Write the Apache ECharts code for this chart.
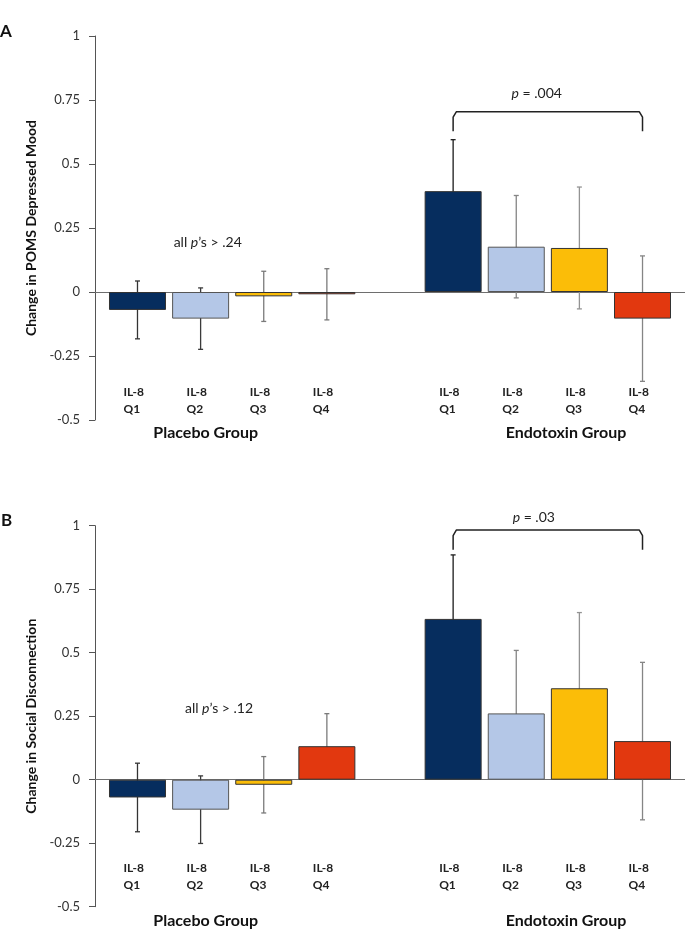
<!DOCTYPE html>
<html><head><meta charset="utf-8">
<script src="https://cdn.jsdelivr.net/npm/echarts@6/dist/echarts.min.js"></script>
<style>html,body{margin:0;padding:0;background:#fff}#c{width:685px;height:929px}</style>
</head><body><div id="c"></div>
<script>
// ---- data ----
const slots = ['Placebo Q1','Placebo Q2','Placebo Q3','Placebo Q4','','Endotoxin Q1','Endotoxin Q2','Endotoxin Q3','Endotoxin Q4'];
const quartileLabels = ['IL-8\nQ1','IL-8\nQ2','IL-8\nQ3','IL-8\nQ4','','IL-8\nQ1','IL-8\nQ2','IL-8\nQ3','IL-8\nQ4'];
const yTicks = [-0.5, -0.25, 0, 0.25, 0.5, 0.75, 1];
const moodMeans   = [-0.070, -0.104, -0.017, -0.009, null, 0.394, 0.177, 0.172, -0.104];
const moodErrors  = [ 0.113,  0.120,  0.098,  0.100, null, 0.201, 0.200, 0.238,  0.245];
const socialMeans = [-0.070, -0.118, -0.020,  0.132, null, 0.633, 0.261, 0.360,  0.152];
const socialErrors= [ 0.135,  0.133,  0.111,  0.128, null, 0.252, 0.248, 0.298,  0.310];
const moodBracket   = {from: 'Endotoxin Q1', to: 'Endotoxin Q4', low: 0.628, high: 0.704, text: '.004'};
const socialBracket = {from: 'Endotoxin Q1', to: 'Endotoxin Q4', low: 0.905, high: 0.983, text: '.03'};

// ---- styles ----
const FONT = 'Lato, "Open Sans", sans-serif';
const barColors = ['#062d5e', '#b4c7e7', '#fbbd08', '#e2380f'];
const barBorders = ['#333333', '#555555', '#333333', '#333333'];
const errColorsPlacebo = ['#333333', '#3a3a3a', '#7a7a7a', '#7a7a7a'];
const errColorsEndo = ['#1a1a1a', '#858585', '#939393', '#858585'];

const panels = [
  {means: moodMeans, errs: moodErrors, bracket: moodBracket, name: 'Change in POMS Depressed Mood', top: 36, height: 384, labelMargin: -36},
  {means: socialMeans, errs: socialErrors, bracket: socialBracket, name: 'Change in Social Disconnection', top: 525.7, height: 381, labelMargin: -47}
];

const grid = [], xAxis = [], yAxis = [], series = [];
const labelPositions = slots.map((s, i) => i).filter(i => slots[i] !== '');

panels.forEach((p, k) => {
  grid.push({left: 95, right: 0, top: p.top, height: p.height, containLabel: false, outerBoundsMode: 'none'});
  xAxis.push({
    type: 'value', gridIndex: k, min: -0.673, max: 8.673,
    splitLine: {show: false},
    axisTick: {show: false},
    axisLine: {show: true, onZero: true, lineStyle: {color: '#6e6e6e', width: 1}},
    axisLabel: {
      show: true, customValues: labelPositions, margin: p.labelMargin, hideOverlap: false,
      formatter: v => {
        const t = quartileLabels[Math.round(v)] || '';
        return t.split('\n').map(l => '{a|' + l + '}').join('\n');
      },
      rich: {a: {width: 28, align: 'left', fontFamily: FONT, fontWeight: 'bold', fontSize: 12, lineHeight: 17, color: '#222'}}
    }
  });
  yAxis.push({
    type: 'value', gridIndex: k, min: -0.5, max: 1, interval: 0.25,
    splitLine: {show: false},
    axisLine: {show: true, onZero: false, lineStyle: {color: '#555', width: 1}},
    axisTick: {show: true, length: 6, lineStyle: {color: '#555'}},
    axisLabel: {margin: 15, fontFamily: FONT, fontSize: 13, color: '#333'},
    name: p.name, nameLocation: 'middle', nameGap: 52,
    nameTextStyle: {fontFamily: FONT, fontWeight: 'bold', fontSize: 14, color: '#111'}
  });
  const barData = [], errData = [];
  p.means.forEach((m, i) => {
    if (m === null) return;
    const q = i < 4 ? i : i - 5;
    barData.push({value: [i, m], itemStyle: {color: barColors[q], borderColor: barBorders[q], borderWidth: 1}});
    errData.push([i, m - p.errs[i], m + p.errs[i], i < 4 ? errColorsPlacebo[q] : errColorsEndo[q]]);
  });
  series.push({
    type: 'bar', xAxisIndex: k, yAxisIndex: k, barWidth: 57, data: barData,
    silent: true, animation: false
  });
  series.push({
    type: 'custom', xAxisIndex: k, yAxisIndex: k, data: errData, animation: false, silent: true,
    encode: {x: 0, y: [1, 2]},
    renderItem: (params, api) => {
      const x = api.value(0);
      const lo = api.coord([x, api.value(1)]);
      const hi = api.coord([x, api.value(2)]);
      const color = errData[params.dataIndex][3];
      const st = {stroke: color, lineWidth: 1.3};
      return {type: 'group', children: [
        {type: 'line', shape: {x1: hi[0], y1: hi[1], x2: lo[0], y2: lo[1]}, style: st},
        {type: 'line', shape: {x1: hi[0] - 2.5, y1: hi[1], x2: hi[0] + 2.5, y2: hi[1]}, style: st},
        {type: 'line', shape: {x1: lo[0] - 2.5, y1: lo[1], x2: lo[0] + 2.5, y2: lo[1]}, style: st}
      ]};
    }
  });
  const b = p.bracket;
  const x1 = slots.indexOf(b.from), x2 = slots.indexOf(b.to);
  const r = 0.05, dy = (b.high - b.low) * 0.28;
  series.push({
    type: 'line', xAxisIndex: k, yAxisIndex: k, symbol: 'none', animation: false, silent: true,
    lineStyle: {color: '#222', width: 1.5},
    data: [[x1, b.low], [x1, b.high - dy], [x1 + r, b.high], [x2 - r, b.high], [x2, b.high - dy], [x2, b.low]]
  });
});

const textItalicP = (pre, post, x, y) => ({
  type: 'text', x: x, y: y,
  style: {
    text: '{n|' + pre + '}{i|p}{n|' + post + '}',
    align: 'center', verticalAlign: 'middle',
    rich: {
      n: {fontFamily: FONT, fontSize: 14, fill: '#222'},
      i: {fontFamily: FONT, fontSize: 14, fontStyle: 'italic', fill: '#222'}
    }
  }
});
const plainText = (t, x, y, size, align) => ({
  type: 'text', x: x, y: y,
  style: {text: t, fontFamily: FONT, fontWeight: 'bold', fontSize: size, fill: '#111', align: align || 'center', verticalAlign: 'middle'}
});

const graphic = [
  plainText('A', 0, 32, 17, 'left'),
  plainText('B', 1, 521, 17, 'left'),
  textItalicP('all ', '\u2019s > .24', 207.7, 242),
  textItalicP('', ' = ' + moodBracket.text, 536.7, 93),
  textItalicP('all ', '\u2019s > .12', 219, 708.7),
  textItalicP('', ' = ' + socialBracket.text, 533.8, 517.7),
  plainText('Placebo Group', 205.7, 433, 16),
  plainText('Endotoxin Group', 566, 433, 16),
  plainText('Placebo Group', 205.7, 920.5, 16),
  plainText('Endotoxin Group', 566, 920.5, 16)
];

const chart = echarts.init(document.getElementById('c'), null, {renderer: 'canvas'});
chart.setOption({backgroundColor: '#fff', animation: false, grid, xAxis, yAxis, series, graphic});
</script></body></html>
